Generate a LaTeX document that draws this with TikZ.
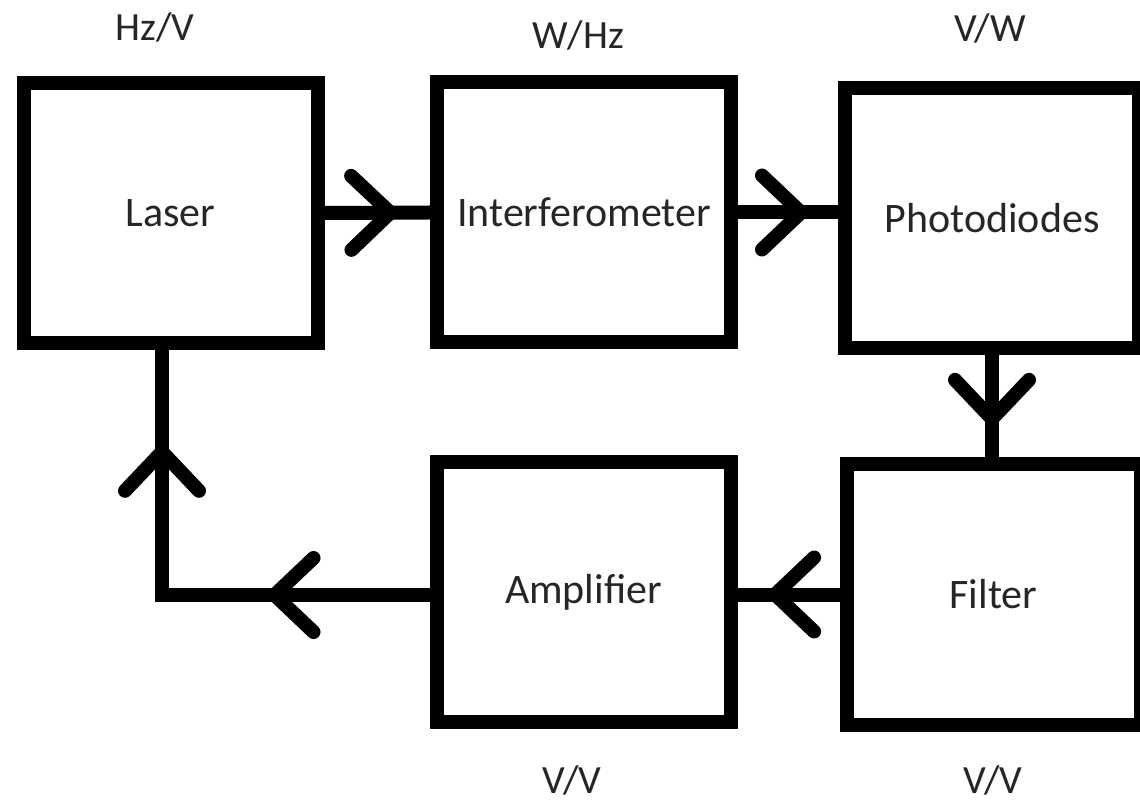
\documentclass[tikz,border=0pt]{standalone}
\usepackage{fontspec}
\setmainfont{Carlito}
\usetikzlibrary{arrows.meta,decorations.markings}
\tikzset{
  chevron/.tip={Straight Barb[length=19.5pt,width=37pt,round]},
  block/.style={draw, line width=7pt, minimum width=147pt, minimum height=130pt,
    inner sep=0pt, font=\fontsize{21}{25}\selectfont, text=black!85},
  unit/.style={font=\fontsize{20}{24}\selectfont, text=black!85},
  link/.style={line width=7pt},
  midArrow/.style={postaction={decorate,
    decoration={markings, mark=at position #1 with {\arrow{chevron}}}}},
}
\begin{document}
\begin{tikzpicture}[x=0.5pt, y=-0.5pt]
  \useasboundingbox (0,0) rectangle (1140,801);       % Frame of the picture
  % Blocks of the loop
  \node[block] (laser)  at (170.5,213)  {Laser};
  \node[block] (interf) at (584,212.5)  {Interferometer};
  \node[block] (photo)  at (992,218.5)  {Photodiodes};
  \node[block] (filter) at (993.5,594.5) {Filter};
  \node[block] (amp)    at (583.5,592)  {Amplifier};
  % Transfer units
  \node[unit] (laserUnit)  at (155,27)  {Hz/V};
  \node[unit] (interfUnit) at (578,35)  {W/Hz};
  \node[unit] (photoUnit)  at (990,28)  {V/W};
  \node[unit] (ampUnit)    at (572,780) {V/V};
  \node[unit] (filterUnit) at (993,780) {V/V};
  % Return corner below the laser
  \coordinate (corner) at (162,595);
  % Signal path
  \draw[link, midArrow=0.69] (laser.east) -- (interf.west);
  \draw[link, midArrow=0.7]  (interf.east) -- (interf.east -| photo.west);
  \draw[link, midArrow=0.69] (photo.south) -- (photo.south |- filter.north);
  \draw[link, midArrow=0.7]  (filter.west) -- (filter.west -| amp.east);
  \draw[link, midArrow=0.316, midArrow=0.815]
    (amp.west |- corner) -- (corner) -- (corner |- laser.south);
\end{tikzpicture}
\end{document}
